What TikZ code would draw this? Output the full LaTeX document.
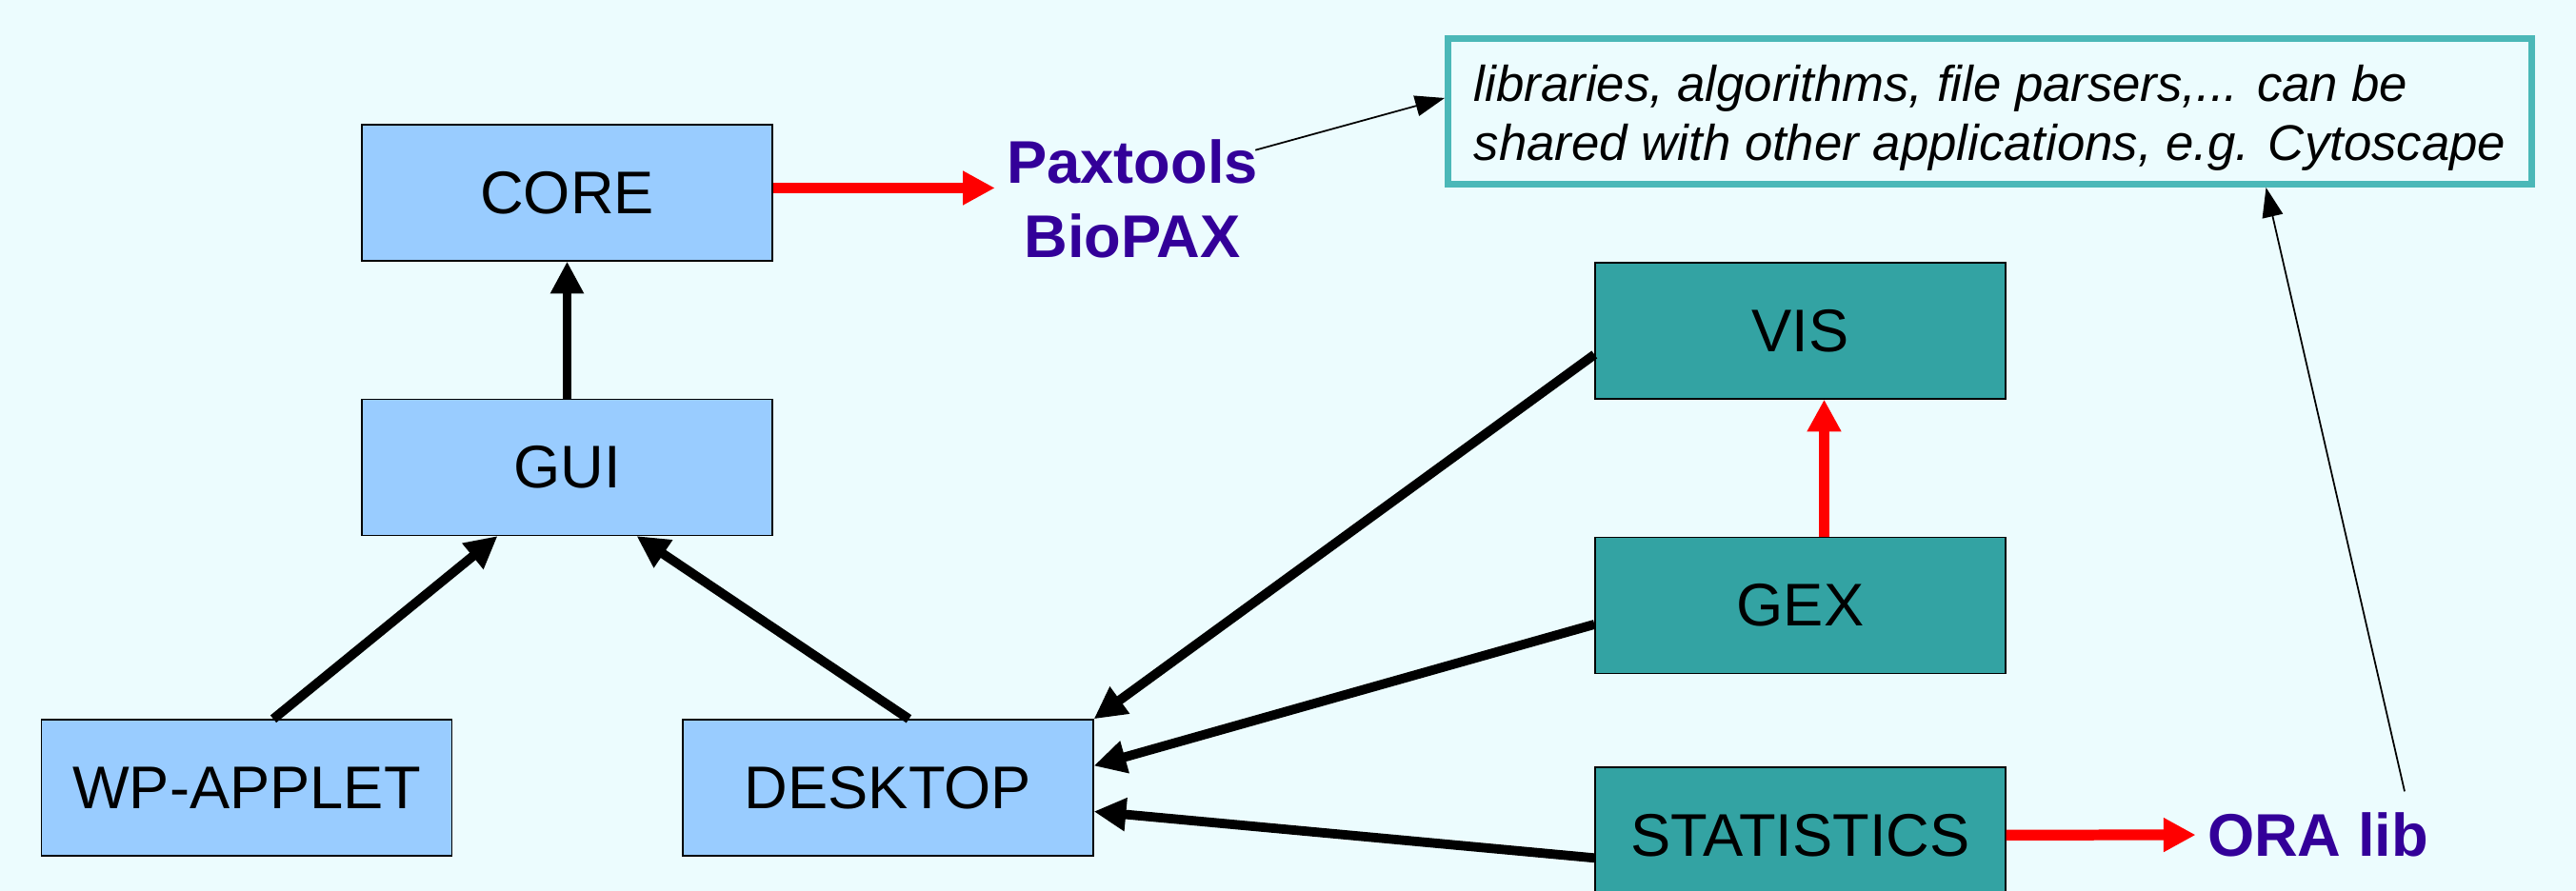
\documentclass[tikz,border=0pt]{standalone}
\usepackage{fontspec}
\setmainfont{Liberation Sans}
\usepackage{tikz}
\usetikzlibrary{arrows.meta,positioning}
\usepackage{xcolor}

\definecolor{bgcyan}{RGB}{236,252,254}
\definecolor{modblue}{RGB}{153,204,255}
\definecolor{plugteal}{RGB}{51,163,163}
\definecolor{noteteal}{RGB}{75,184,184}
\definecolor{labelblue}{RGB}{51,0,153}

\begin{document}
\begin{tikzpicture}[
    every node/.style={font=\fontsize{18}{21.6}\selectfont},
    module/.style={rectangle, draw=black, line width=0.4pt, fill=modblue, minimum width=4.31cm, minimum height=1.43cm, inner sep=0pt},
    plugin/.style={module, fill=plugteal},
    lib/.style={font=\fontsize{18}{22}\selectfont\bfseries, text=labelblue, align=center},
    note/.style={rectangle, draw=noteteal, line width=2pt, minimum width=11.38cm, minimum height=1.53cm, align=left, font=\fontsize{15}{17.6}\selectfont\itshape},
    arrow/.style={-{Triangle[length=9.6pt, width=9.4pt]}, line width=2.8pt, black},
    redarrow/.style={-{Triangle[length=9.6pt, width=9.6pt]}, line width=3.2pt, red},
    thinarrow/.style={-{Triangle[length=8.8pt, width=6.2pt]}, line width=0.5pt, black}
]
    \useasboundingbox (0,0) rectangle (27.05,9.36);
    \fill[bgcyan] (0,0) rectangle (27.05,9.36);

    % Core modules
    \node[module] (core) at (5.955,7.335) {CORE};
    \node[module, below=1.44cm of core] (gui) {GUI};
    \node[module] (applet) at (2.59,1.085) {WP-APPLET};
    \node[module, right=2.41cm of applet] (desktop) {DESKTOP};

    % Plugins
    \node[plugin] (vis) at (18.905,5.885) {VIS};
    \node[plugin, below=1.44cm of vis] (gex) {GEX};
    \node[plugin, below=0.97cm of gex] (stats) {STATISTICS};

    % Libraries
    \node[lib] (pax) at (11.89,7.27) {Paxtools\\BioPAX};
    \node[lib] (ora) at (24.34,0.59) {ORA lib};
    \node[note] (note) at (20.895,8.19) {\rule{0pt}{15pt}libraries, algorithms, file parsers,... can be\\shared with other applications, e.g. Cytoscape};

    % Dependencies
    \draw[arrow] (gui) -- (core);
    \draw[arrow] ([xshift=0.28cm]applet.north) -- ([xshift=-0.73cm]gui.south);
    \draw[arrow] ([xshift=0.22cm]desktop.north) -- ([xshift=0.73cm]gui.south);
    \draw[arrow] ([yshift=-0.25cm]vis.west) -- (desktop.north east);
    \draw[arrow] ([yshift=-0.2cm]gex.west) -- ([yshift=0.23cm]desktop.east);
    \draw[arrow] ([yshift=-0.24cm]stats.west) -- ([yshift=-0.25cm]desktop.east);

    % Library links
    \draw[redarrow] ([yshift=0.05cm]core.east) -- ([yshift=0.05cm]core.east -| pax.west);
    \draw[redarrow] ([xshift=0.25cm]gex.north) -- ([xshift=0.25cm]vis.south);
    \draw[redarrow] (stats) -- (ora);
    \draw[thinarrow] ([xshift=-0.15cm,yshift=-0.23cm]pax.north east) -- ([yshift=0.14cm]note.west);
    \draw[thinarrow] ([xshift=0.91cm,yshift=0.1cm]ora.north) -- ([xshift=2.9cm]note.south);
\end{tikzpicture}
\end{document}
